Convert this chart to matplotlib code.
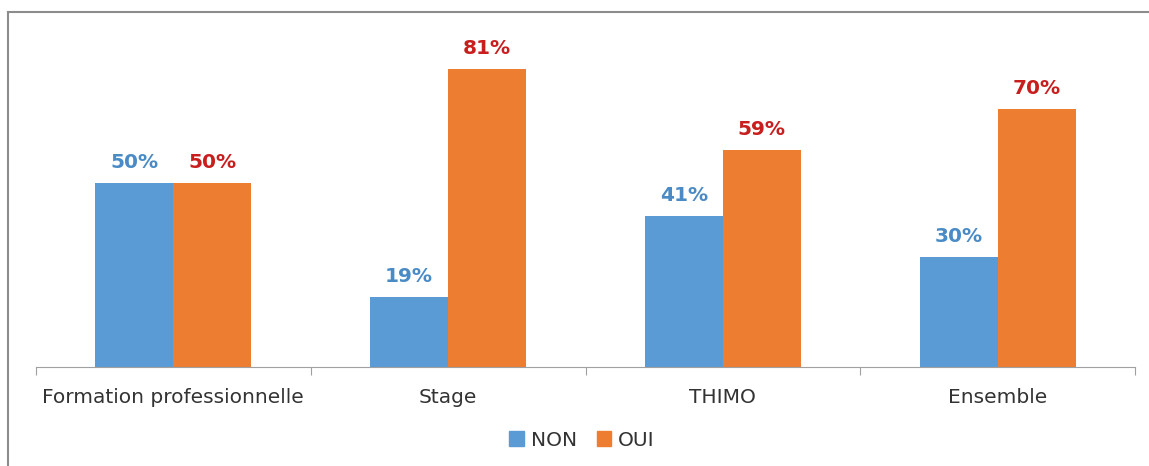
import numpy as np
import matplotlib.pyplot as plt
from matplotlib.lines import Line2D
from matplotlib.patches import Patch

# data
categories = ['Formation professionnelle', 'Stage', 'THIMO', 'Ensemble']
non_vals = [50, 19, 41, 30]
oui_vals = [50, 81, 59, 70]

blue = '#5B9BD5'
orange = '#ED7D31'

fig = plt.figure(figsize=(11.49, 4.66), dpi=100)
ax = fig.add_axes([36 / 1149, 1 - 367 / 466, (1135 - 36) / 1149, (367 - 30) / 466])

x = np.arange(len(categories))
w = 0.284
ax.bar(x - w / 2, non_vals, w, color=blue)
ax.bar(x + w / 2, oui_vals, w, color=orange)

for xi, v in zip(x, non_vals):
    ax.text(xi - w / 2, v + 3.0, f'{v}%', ha='center', va='bottom',
            color='#4A8BC6', fontsize=14.5, fontweight='semibold')
for xi, v in zip(x, oui_vals):
    ax.text(xi + w / 2, v + 3.0, f'{v}%', ha='center', va='bottom',
            color='#C81E1E', fontsize=14.5, fontweight='semibold')

ax.set_xlim(-0.5, len(categories) - 0.5)
ax.set_ylim(0, 91.6)
for s in ['top', 'right', 'left']:
    ax.spines[s].set_visible(False)
ax.spines['bottom'].set_color('#A0A0A0')
ax.set_yticks([])

# ticks between categories, labels centred
ax.set_xticks(np.arange(-0.5, len(categories)), minor=False)
ax.set_xticklabels([])
ax.tick_params(axis='x', length=6, color='#A0A0A0', direction='out')
ax.set_xticks(x, minor=True)
ax.set_xticklabels(categories, minor=True)
ax.tick_params(axis='x', which='minor', length=0, pad=15, labelsize=14.5, labelcolor='#333333')

# legend
handles = [Patch(color=blue, label='NON'), Patch(color=orange, label='OUI')]
fig.legend(handles=handles, loc='center', bbox_to_anchor=(582 / 1149, 1 - 440 / 466),
           ncol=2, frameon=False, fontsize=14.5, handlelength=0.7, handleheight=0.7,
           handletextpad=0.35, columnspacing=1.0, labelcolor='#333333')

# chart border (top and left visible)
fig.add_artist(Line2D([8 / 1149, 8 / 1149], [0, 1 - 12 / 466], transform=fig.transFigure,
                      color='#8C8C8C', lw=1.5))
fig.add_artist(Line2D([8 / 1149, 1], [1 - 12 / 466, 1 - 12 / 466], transform=fig.transFigure,
                      color='#8C8C8C', lw=1.5))

fig.savefig('out.png', dpi=100)
